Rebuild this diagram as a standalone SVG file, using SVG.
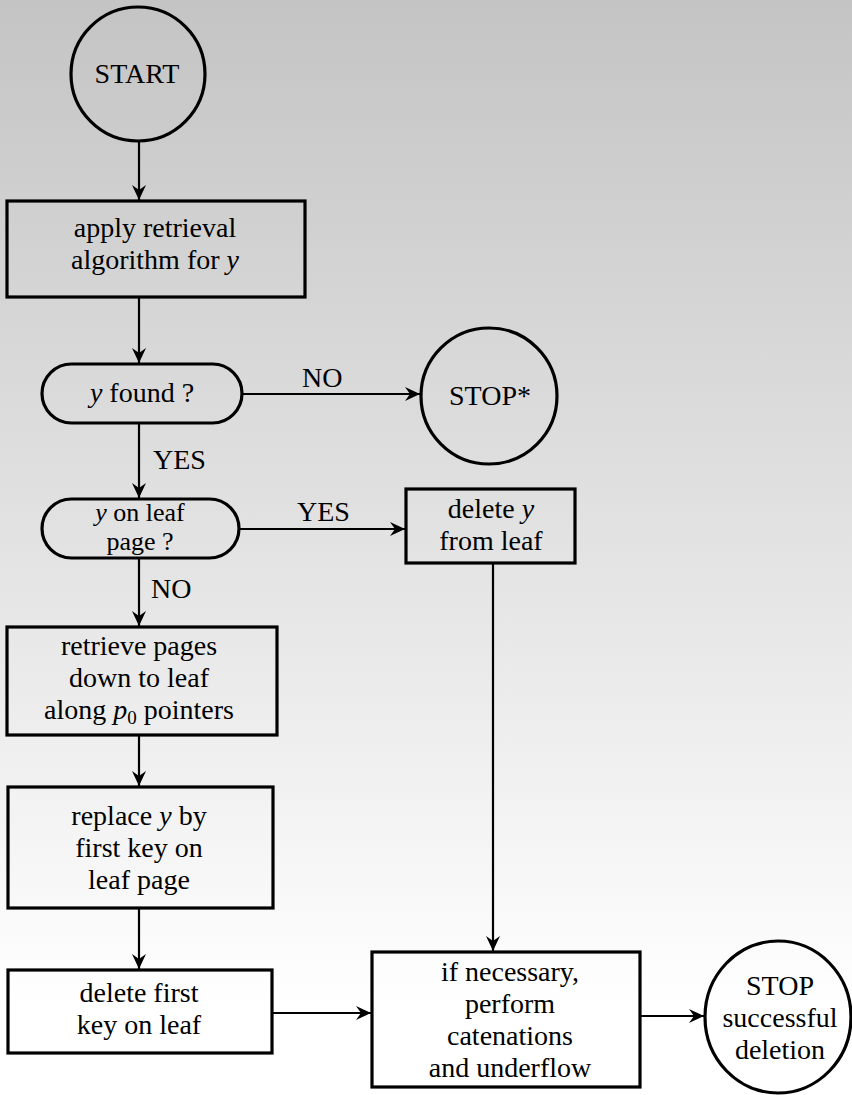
<svg xmlns="http://www.w3.org/2000/svg" width="852" height="1095" viewBox="0 0 852 1095">
<defs>
<linearGradient id="bg" x1="0" y1="0" x2="0" y2="1">
<stop offset="0" stop-color="#c4c4c4"/>
<stop offset="0.55" stop-color="#e6e6e6"/>
<stop offset="0.92" stop-color="#ffffff"/>
</linearGradient>
<marker id="arr" markerWidth="16" markerHeight="14" refX="15" refY="7" orient="auto" markerUnits="userSpaceOnUse">
<path d="M0,0 L15,7 L0,14 L5,7 Z" fill="#000"/>
</marker>
<style>
.n{fill:none;stroke:#000;stroke-width:3.2}
.t{font-family:"Liberation Serif","Times New Roman",serif;font-size:28px;fill:#000;text-anchor:middle}
.s{font-size:26px}
.l{font-family:"Liberation Serif","Times New Roman",serif;font-size:28px;fill:#000}
.c{fill:none;stroke:#000;stroke-width:2.2;marker-end:url(#arr)}
</style>
</defs>
<rect x="0" y="0" width="852" height="1095" fill="url(#bg)"/>
<g id="connectors">
<line class="c" x1="139" y1="142" x2="139" y2="200"/>
<line class="c" x1="139" y1="297" x2="139" y2="363"/>
<line class="c" x1="242" y1="394" x2="420" y2="394"/>
<line class="c" x1="139" y1="423" x2="139" y2="498"/>
<line class="c" x1="239" y1="529" x2="405" y2="529"/>
<line class="c" x1="139" y1="558" x2="139" y2="626"/>
<line class="c" x1="493" y1="563" x2="493" y2="951"/>
<line class="c" x1="139" y1="735" x2="139" y2="786"/>
<line class="c" x1="139" y1="908" x2="139" y2="969"/>
<line class="c" x1="272" y1="1013" x2="371" y2="1013"/>
<line class="c" x1="640" y1="1016" x2="704" y2="1016"/>
<text class="l" x="302" y="387">NO</text>
<text class="l" x="153" y="469">YES</text>
<text class="l" x="297" y="521">YES</text>
<text class="l" x="151" y="598">NO</text>
</g>
<g id="start">
<circle class="n" cx="138" cy="74" r="67"/>
<text class="t" x="137" y="83">START</text>
</g>
<g id="apply">
<rect class="n" x="7" y="201" width="298" height="96"/>
<text class="t" x="155" y="237">apply retrieval</text>
<text class="t" x="155" y="269">algorithm for <tspan font-style="italic">y</tspan></text>
</g>
<g id="found">
<rect class="n" x="42" y="364" width="200" height="59" rx="29.5"/>
<text class="t" x="142" y="402"><tspan font-style="italic">y</tspan> found ?</text>
</g>
<g id="stopstar">
<circle class="n" cx="489" cy="396" r="68"/>
<text class="t" x="490" y="405">STOP*</text>
</g>
<g id="onleaf">
<rect class="n" x="42" y="499" width="197" height="59" rx="29.5"/>
<text class="t s" x="140" y="521"><tspan font-style="italic">y</tspan> on leaf</text>
<text class="t s" x="140" y="550">page ?</text>
</g>
<g id="deletey">
<rect class="n" x="406" y="489" width="169" height="74"/>
<text class="t" x="491" y="518">delete <tspan font-style="italic">y</tspan></text>
<text class="t" x="491" y="550">from leaf</text>
</g>
<g id="retrieve">
<rect class="n" x="7" y="627" width="270" height="108"/>
<text class="t" x="139" y="655">retrieve pages</text>
<text class="t" x="139" y="687">down to leaf</text>
<text class="t" x="139" y="719">along <tspan font-style="italic">p</tspan><tspan font-size="19" dy="5">0</tspan><tspan dy="-5"> pointers</tspan></text>
</g>
<g id="replace">
<rect class="n" x="8" y="787" width="265" height="121"/>
<text class="t" x="139" y="825">replace <tspan font-style="italic">y</tspan> by</text>
<text class="t" x="139" y="857">first key on</text>
<text class="t" x="139" y="889">leaf page</text>
</g>
<g id="deletefirst">
<rect class="n" x="8" y="970" width="264" height="83"/>
<text class="t" x="139" y="1002">delete first</text>
<text class="t" x="139" y="1034">key on leaf</text>
</g>
<g id="ifnecessary">
<rect class="n" x="372" y="952" width="268" height="135"/>
<text class="t" x="510" y="981">if necessary,</text>
<text class="t" x="510" y="1013">perform</text>
<text class="t" x="510" y="1045">catenations</text>
<text class="t" x="510" y="1077">and underflow</text>
</g>
<g id="stopok">
<ellipse class="n" cx="778" cy="1017" rx="73" ry="76"/>
<text class="t" x="780" y="995">STOP</text>
<text class="t" x="780" y="1027">successful</text>
<text class="t" x="780" y="1059">deletion</text>
</g>
</svg>
